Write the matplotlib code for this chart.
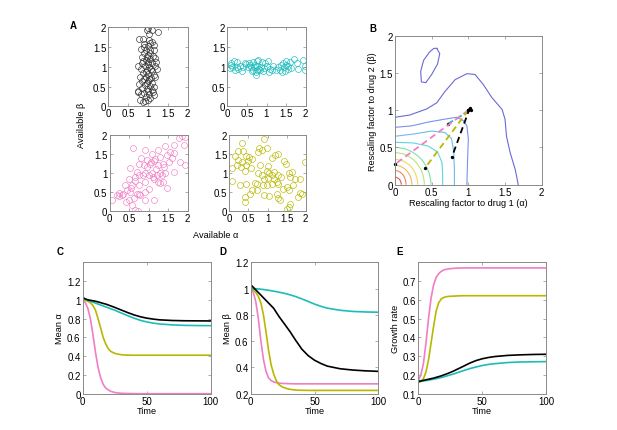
import numpy as np
import matplotlib
matplotlib.use('Agg')
import matplotlib.pyplot as plt
from matplotlib.patches import Arc

plt.rcParams['font.family'] = ['Liberation Sans', 'DejaVu Sans']

BLACK = '#000000'
CYAN = '#1cbcbc'
PINK = '#f07ec4'
OLIVE = '#b8b800'

# ---- panel A : available (alpha, beta) per population ----
black_a = [1.0, 0.98, 1.1, 1.24, 1.02, 0.78, 0.88, 1.02, 1.1, 0.91, 1.0, 1.14, 0.83, 0.94, 1.05, 1.16,
           0.91, 1.01, 1.12, 0.84, 0.97, 1.05, 1.18, 0.88, 0.99, 1.09, 0.76, 0.93, 1.03, 1.18, 0.82,
           0.97, 1.09, 1.22, 0.88, 1.01, 1.14, 0.8, 0.94, 1.08, 1.18, 0.86, 0.99, 1.11, 0.77, 0.92,
           1.05, 1.16, 0.84, 0.97, 1.09, 0.76, 0.91, 1.03, 1.14, 0.74, 0.94, 1.05, 0.8, 0.99, 0.88,
           0.93, 1.0, 0.95, 1.06, 0.9, 1.02, 0.98, 1.07, 0.86, 1.12, 0.96, 1.04, 0.89, 1.2, 0.82, 1.0]
black_b = [1.98, 1.92, 1.93, 1.88, 1.83, 1.7, 1.7, 1.68, 1.62, 1.57, 1.53, 1.55, 1.45, 1.43, 1.42, 1.43,
           1.34, 1.31, 1.28, 1.24, 1.24, 1.2, 1.22, 1.14, 1.12, 1.09, 1.03, 1.03, 1.0, 1.03, 0.95,
           0.92, 0.9, 0.94, 0.84, 0.82, 0.8, 0.75, 0.75, 0.72, 0.73, 0.65, 0.63, 0.6, 0.57, 0.55,
           0.52, 0.5, 0.46, 0.44, 0.41, 0.37, 0.33, 0.31, 0.29, 0.38, 0.24, 0.22, 0.16, 0.16, 0.1,
           0.14, 1.08, 1.18, 1.35, 0.7, 0.7, 0.58, 0.95, 1.1, 0.36, 0.86, 1.6, 1.5, 1.12, 0.3, 0.4]

cyan_a = [0.09, 0.18, 0.26, 0.13, 0.24, 0.32, 0.07, 0.28, 0.47, 0.55, 0.66, 0.75, 0.79, 0.88, 0.96,
          1.05, 0.52, 0.6, 0.69, 0.77, 0.86, 0.62, 0.72, 0.72, 0.83, 0.94, 1.09, 1.17, 1.3, 1.43,
          1.51, 1.6, 1.34, 1.46, 1.56, 1.69, 1.77, 1.94, 1.97, 1.98, 1.8, 1.06, 1.4, 0.45, 0.41,
          0.37, 0.7, 0.8, 0.65, 0.75, 1.5, 1.45, 1.55, 0.58, 1.25, 1.38, 0.2, 0.1, 0.9, 1.62, 1.0, 1.15]
cyan_b = [1.09, 1.14, 1.11, 0.99, 1.0, 1.03, 0.96, 0.95, 1.07, 1.09, 1.11, 1.14, 1.17, 1.11, 1.09,
          1.14, 0.99, 1.0, 0.99, 1.03, 1.0, 0.9, 0.86, 0.78, 0.92, 0.97, 0.95, 1.03, 0.99, 1.09,
          1.14, 1.11, 0.92, 0.9, 0.95, 1.2, 1.09, 1.17, 1.03, 0.92, 0.95, 0.86, 0.86, 1.09, 1.0,
          0.9, 1.05, 0.95, 0.93, 0.92, 1.05, 1.0, 1.02, 1.04, 0.93, 1.05, 0.93, 1.05, 0.9, 0.98, 1.02, 0.92]

pink_a = [1.85, 1.93, 1.78, 1.9, 1.64, 1.42, 1.55, 1.66, 0.59, 0.9, 1.25, 1.08, 1.17, 0.96, 0.81, 1.3,
          1.47, 0.75, 0.87, 1.04, 1.15, 1.24, 1.38, 1.51, 1.81, 1.92, 1.66, 0.53, 0.7, 0.92, 1.0,
          1.08, 1.21, 1.3, 1.34, 1.41, 1.15, 1.25, 1.38, 1.47, 0.75, 0.51, 0.66, 0.92, 0.39, 0.58,
          0.56, 0.75, 0.34, 0.31, 0.24, 0.53, 0.75, 0.79, 0.9, 1.15, 0.62, 0.07, 0.58, 0.64, 0.73,
          0.41, 1.0, 0.25, 0.2, 0.5, 0.9, 1.4, 1.3, 1.2, 1.05, 0.95, 0.65, 1.6, 0.45, 0.85, 1.1, 0.7]
pink_b = [1.98, 1.96, 1.93, 1.74, 1.74, 1.72, 1.56, 1.52, 1.67, 1.6, 1.6, 1.49, 1.37, 1.34, 1.4, 1.43,
          1.47, 1.25, 1.21, 1.25, 1.31, 1.21, 1.25, 1.28, 1.3, 1.21, 1.03, 1.12, 1.03, 0.99, 0.96,
          1.01, 0.96, 0.99, 0.94, 0.99, 0.85, 0.77, 0.77, 0.61, 0.94, 0.85, 0.78, 0.77, 0.68, 0.68,
          0.61, 0.68, 0.46, 0.41, 0.48, 0.5, 0.46, 0.43, 0.28, 0.28, 0.33, 0.28, 0.15, 0.02, 0.0,
          0.24, 0.59, 0.4, 0.43, 0.3, 0.5, 1.15, 0.75, 1.1, 1.3, 1.15, 0.9, 1.4, 0.55, 0.95, 0.9, 0.45]

olive_a = [0.92, 0.34, 0.24, 0.37, 0.78, 0.86, 0.98, 0.76, 0.15, 0.43, 0.52, 0.24, 0.34, 0.48, 0.59,
           1.11, 1.2, 1.27, 1.44, 1.48, 1.97, 0.06, 0.19, 0.31, 0.45, 0.57, 0.8, 1.0, 0.41, 0.76,
           0.98, 0.85, 1.04, 1.11, 1.18, 1.28, 1.0, 0.92, 1.18, 1.24, 1.35, 1.56, 1.63, 1.59, 1.72,
           1.85, 0.08, 0.28, 0.45, 0.66, 0.72, 0.89, 0.98, 1.11, 1.28, 1.41, 1.5, 1.68, 1.85, 1.81,
           1.9, 0.59, 0.72, 0.54, 0.41, 0.92, 1.04, 1.24, 1.55, 0.41, 1.28, 1.33, 1.59, 1.5, 1.55]
olive_b = [1.89, 1.78, 1.58, 1.58, 1.67, 1.6, 1.65, 1.54, 1.45, 1.45, 1.43, 1.34, 1.3, 1.31, 1.37,
           1.4, 1.47, 1.49, 1.31, 1.25, 1.3, 1.12, 1.21, 1.16, 1.21, 1.12, 1.21, 1.19, 1.05, 0.99,
           1.05, 0.96, 1.01, 0.96, 1.03, 0.96, 0.87, 0.85, 0.85, 0.77, 0.9, 0.99, 1.03, 0.9, 0.85,
           0.85, 0.78, 0.68, 0.7, 0.75, 0.7, 0.68, 0.68, 0.72, 0.7, 0.59, 0.63, 0.68, 0.48, 0.37,
           0.46, 0.55, 0.55, 0.46, 0.37, 0.41, 0.4, 0.46, 0.55, 0.24, 0.33, 0.28, 0.19, 0.04, 0.11]

# ---- panels C, D, E : time courses ----
time = [0, 2, 4, 6, 8, 10, 12, 14, 16, 18, 20, 22, 25, 28, 31, 35, 40, 45, 50, 55, 60, 70, 80, 90, 100]

alpha_black = [1.02, 1.01, 1.0, 0.995, 0.99, 0.985, 0.978, 0.97, 0.962, 0.955, 0.945, 0.935, 0.92, 0.903,
               0.887, 0.865, 0.84, 0.82, 0.805, 0.795, 0.787, 0.78, 0.777, 0.776, 0.775]
alpha_cyan = [1.03, 1.01, 0.995, 0.985, 0.975, 0.965, 0.955, 0.945, 0.935, 0.925, 0.915, 0.905, 0.89,
              0.872, 0.855, 0.832, 0.805, 0.782, 0.765, 0.752, 0.743, 0.733, 0.728, 0.726, 0.725]
alpha_olive = [1.0, 0.995, 0.985, 0.97, 0.94, 0.89, 0.8, 0.7, 0.6, 0.53, 0.48, 0.45, 0.43, 0.42, 0.414,
               0.411, 0.41, 0.41, 0.41, 0.41, 0.41, 0.41, 0.41, 0.41, 0.41]
alpha_pink = [1.0, 0.97, 0.91, 0.8, 0.63, 0.44, 0.28, 0.17, 0.1, 0.06, 0.04, 0.025, 0.013, 0.007, 0.004,
              0.002, 0.001, 0, 0, 0, 0, 0, 0, 0, 0]

beta_black = [1.03, 1.01, 0.99, 0.97, 0.95, 0.93, 0.91, 0.89, 0.87, 0.85, 0.82, 0.79, 0.75, 0.71, 0.67,
              0.61, 0.54, 0.49, 0.455, 0.43, 0.41, 0.39, 0.38, 0.374, 0.37]
beta_cyan = [1.0, 1.0, 0.999, 0.997, 0.995, 0.993, 0.99, 0.987, 0.984, 0.98, 0.977, 0.973, 0.967, 0.96,
             0.952, 0.94, 0.922, 0.902, 0.882, 0.865, 0.851, 0.835, 0.826, 0.822, 0.82]
beta_olive = [1.0, 0.99, 0.97, 0.94, 0.89, 0.8, 0.67, 0.53, 0.42, 0.35, 0.3, 0.27, 0.25, 0.24, 0.233,
              0.228, 0.226, 0.225, 0.225, 0.225, 0.225, 0.225, 0.225, 0.225, 0.225]
beta_pink = [1.0, 0.97, 0.9, 0.77, 0.6, 0.46, 0.37, 0.32, 0.3, 0.29, 0.284, 0.281, 0.278, 0.277, 0.276,
             0.275, 0.275, 0.275, 0.275, 0.275, 0.275, 0.275, 0.275, 0.275, 0.275]

growth_black = [0.165, 0.168, 0.171, 0.174, 0.177, 0.18, 0.183, 0.187, 0.191, 0.195, 0.2, 0.205, 0.213,
                0.222, 0.232, 0.245, 0.262, 0.276, 0.286, 0.293, 0.298, 0.304, 0.307, 0.309, 0.31]
growth_cyan = [0.165, 0.166, 0.168, 0.17, 0.172, 0.175, 0.177, 0.18, 0.183, 0.186, 0.19, 0.194, 0.2,
               0.206, 0.213, 0.222, 0.233, 0.242, 0.25, 0.256, 0.26, 0.266, 0.269, 0.27, 0.271]
growth_olive = [0.16, 0.165, 0.18, 0.215, 0.28, 0.37, 0.46, 0.54, 0.585, 0.605, 0.613, 0.617, 0.619,
                0.62, 0.621, 0.622, 0.622, 0.622, 0.622, 0.622, 0.622, 0.622, 0.622, 0.622, 0.622]
growth_pink = [0.17, 0.2, 0.26, 0.37, 0.5, 0.61, 0.68, 0.72, 0.74, 0.752, 0.759, 0.763, 0.766, 0.768,
               0.769, 0.77, 0.77, 0.77, 0.77, 0.77, 0.77, 0.77, 0.77, 0.77, 0.77]

# ---- panel B : growth-rate contour lines ----
outer_a = [0, 0.2, 0.43, 0.57, 0.68, 0.82, 0.98, 1.09, 1.2, 1.32, 1.46, 1.5, 1.52, 1.57, 1.64, 1.68]
outer_b = [0.905, 0.935, 1.016, 1.1, 1.25, 1.41, 1.49, 1.48, 1.35, 1.17, 1.01, 0.88, 0.65, 0.43, 0.2, 0.0]
island_a = [0.57, 0.61, 0.58, 0.5, 0.42, 0.36, 0.35, 0.39, 0.47, 0.53, 0.57]
island_b = [1.83, 1.76, 1.62, 1.48, 1.37, 1.38, 1.52, 1.67, 1.78, 1.83, 1.83]
ring2_a = [0, 0.23, 0.45, 0.68, 0.84, 0.93, 0.98, 1.0, 0.99, 0.98]
ring2_b = [0.77, 0.79, 0.84, 0.88, 0.905, 0.86, 0.79, 0.61, 0.35, 0.0]
ring3_a = [0, 0.25, 0.5, 0.68, 0.77, 0.8, 0.81, 0.81]
ring3_b = [0.65, 0.68, 0.72, 0.70, 0.62, 0.45, 0.2, 0.0]
ring4_a = [0, 0.25, 0.45, 0.58, 0.64, 0.65, 0.65]
ring4_b = [0.57, 0.56, 0.52, 0.44, 0.3, 0.15, 0.0]
# inner rings: intercepts on the alpha and beta axes
inner_a = [0.49, 0.40, 0.31, 0.23, 0.15, 0.086]
inner_b = [0.50, 0.43, 0.34, 0.26, 0.19, 0.10]
ring_colors = ['#6a6ad6', '#7892ee', '#6cbcf0', '#5cd6dc', '#7ee0a8', '#b4e67a',
               '#e6dc62', '#f4b65a', '#ee8656', '#e05a5a']

TICK = 7
LAB = 6.6
SPINE = '#8a8a8a'


def style(ax):
    ax.tick_params(direction='in', top=True, right=True, length=2, width=0.5,
                   color=SPINE, labelsize=TICK, pad=1.5)
    for s in ax.spines.values():
        s.set_color(SPINE)
        s.set_linewidth(0.7)


W, H = 617.0, 431.0


def axes_px(x0, y0, x1, y1):
    return fig.add_axes([x0 / W, 1 - y1 / H, (x1 - x0) / W, (y1 - y0) / H])


fig = plt.figure(figsize=(6.17, 4.31), dpi=100)

# panel A
boxes = [(108.3, 28.3, 187.7, 107.3), (227.3, 28.3, 305.7, 107.3),
         (109.5, 136, 187.7, 212), (229.3, 136, 305.7, 212)]
pops = [(black_a, black_b, '#303030'), (cyan_a, cyan_b, CYAN),
        (pink_a, pink_b, PINK), (olive_a, olive_b, OLIVE)]
for box, (xa, yb, c) in zip(boxes, pops):
    ax = axes_px(*box)
    ax.plot(xa, yb, 'o', mfc='none', mec=c, ms=4.3, mew=0.45)
    ax.set_xlim(0, 2)
    ax.set_ylim(0, 2)
    ax.set_xticks([0, 0.5, 1, 1.5, 2])
    ax.set_yticks([0, 0.5, 1, 1.5, 2])
    ax.set_xticklabels(['0', '0.5', '1', '1.5', '2'])
    ax.set_yticklabels(['0', '0.5', '1', '1.5', '2'])
    style(ax)
fig.text(216 / W, 1 - 236 / H, 'Available α', fontsize=LAB, ha='center', va='center')
fig.text(82 / W, 1 - 125 / H, 'Available β', fontsize=LAB, ha='center', va='center', rotation=90)

# panel B
axb = axes_px(395, 36.7, 541.7, 185.7)
axb.plot(outer_a, outer_b, color=ring_colors[0], lw=0.8)
axb.plot(island_a, island_b, color=ring_colors[0], lw=0.8)
axb.plot(ring2_a, ring2_b, color=ring_colors[1], lw=0.8)
axb.plot(ring3_a, ring3_b, color=ring_colors[2], lw=0.8)
axb.plot(ring4_a, ring4_b, color=ring_colors[3], lw=0.8)
for ra, rb, c in zip(inner_a, inner_b, ring_colors[4:]):
    axb.add_patch(Arc((0, 0), 2 * ra, 2 * rb, theta1=0, theta2=90, color=c, lw=0.8))
for am, bm, c in [(alpha_cyan, beta_cyan, CYAN), (alpha_pink, beta_pink, PINK),
                  (alpha_olive, beta_olive, OLIVE), (alpha_black, beta_black, BLACK)]:
    axb.plot([am[0], am[-1]], [bm[0], bm[-1]], '--', color=c, lw=1.3, dashes=(3.5, 2.2))
    axb.plot([am[0], am[-1]], [bm[0], bm[-1]], 'o', color='k', ms=2.4, mew=0, clip_on=False)
axb.set_xlim(0, 2)
axb.set_ylim(0, 2)
axb.set_xticks([0, 0.5, 1, 1.5, 2])
axb.set_yticks([0, 0.5, 1, 1.5, 2])
axb.set_xticklabels(['0', '0.5', '1', '1.5', '2'])
axb.set_yticklabels(['0', '0.5', '1', '1.5', '2'])
axb.set_xlabel('Rescaling factor to drug 1 (α)', fontsize=LAB, labelpad=1)
axb.set_ylabel('Rescaling factor to drug 2 (β)', fontsize=LAB, labelpad=2)
style(axb)

# panels C, D, E
series = {
    'C': (alpha_black, alpha_cyan, alpha_olive, alpha_pink),
    'D': (beta_black, beta_cyan, beta_olive, beta_pink),
    'E': (growth_black, growth_cyan, growth_olive, growth_pink),
}
bottom_boxes = {'C': (82.7, 263.3, 210.7, 394.7), 'D': (250.7, 263.3, 378.3, 394.7),
                'E': (418.3, 263.3, 546, 394.7)}
ylims = {'C': (0, 1.4), 'D': (0.2, 1.2), 'E': (0.1, 0.8)}
yticks = {'C': [0, 0.2, 0.4, 0.6, 0.8, 1, 1.2], 'D': [0.2, 0.4, 0.6, 0.8, 1, 1.2],
          'E': [0.1, 0.2, 0.3, 0.4, 0.5, 0.6, 0.7]}
ylabels = {'C': 'Mean α', 'D': 'Mean β', 'E': 'Growth rate'}
for key in ['C', 'D', 'E']:
    ax = axes_px(*bottom_boxes[key])
    yk, yc, yo, yp = series[key]
    ax.plot(time, yp, color=PINK, lw=1.2)
    ax.plot(time, yo, color=OLIVE, lw=1.2)
    ax.plot(time, yc, color=CYAN, lw=1.2)
    ax.plot(time, yk, color=BLACK, lw=1.2)
    ax.set_xlim(0, 100)
    ax.set_ylim(*ylims[key])
    ax.set_xticks([0, 50, 100])
    ax.set_yticks(yticks[key])
    ax.set_yticklabels(['%g' % v for v in yticks[key]])
    ax.set_xlabel('Time', fontsize=LAB, labelpad=0)
    ax.set_ylabel(ylabels[key], fontsize=LAB, labelpad=2)
    style(ax)

# panel letters
for letter, (px, py) in {'A': (73, 26), 'B': (373, 29), 'C': (60, 252),
                         'D': (223, 252), 'E': (400, 252)}.items():
    fig.text(px / W, 1 - py / H, letter, fontsize=7, fontweight='bold', ha='center', va='center')

fig.savefig('out.png', dpi=100)
